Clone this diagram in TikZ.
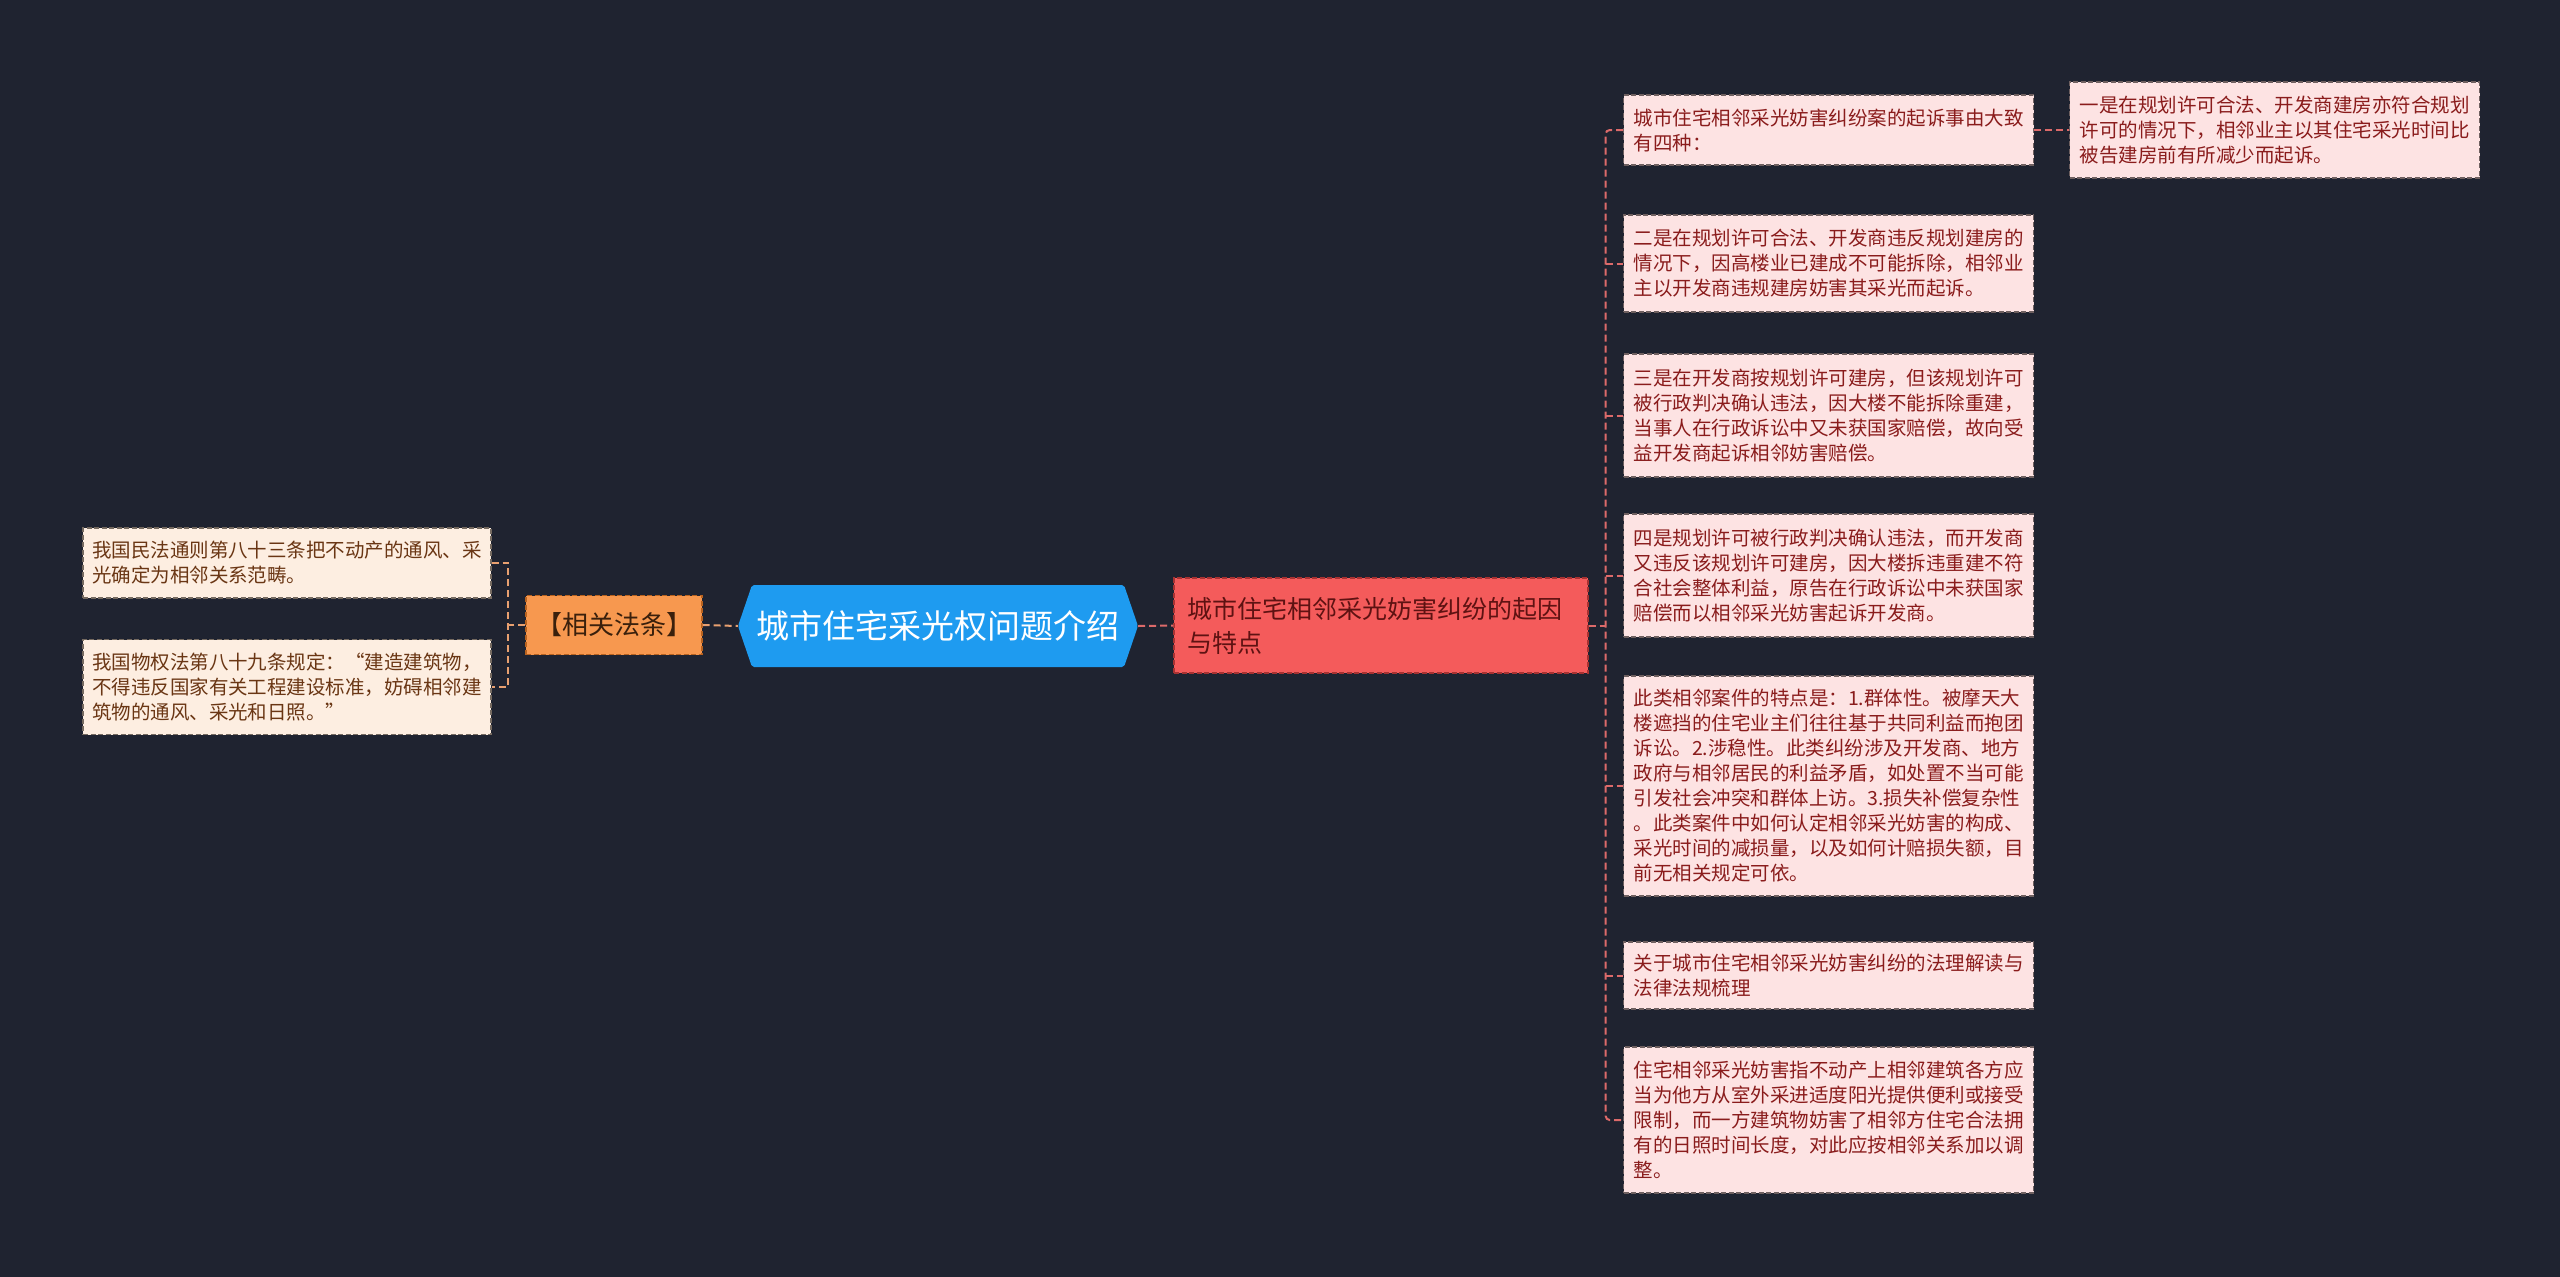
\documentclass[tikz,border=0pt]{standalone}
\usepackage{fontspec}
\setmainfont{Noto Sans CJK SC}
\usetikzlibrary{positioning}
\definecolor{bg}{HTML}{1F2330}
\definecolor{rootblue}{HTML}{1E9BF0}
\definecolor{orangefill}{HTML}{F7984F}
\definecolor{orangeline}{HTML}{B8621F}
\definecolor{orangetext}{HTML}{3A200C}
\definecolor{redfill}{HTML}{F45B5B}
\definecolor{redline}{HTML}{A83232}
\definecolor{redtext}{HTML}{5E1212}
\definecolor{pinkfill}{HTML}{FDE3E3}
\definecolor{pinkline}{HTML}{6F6060}
\definecolor{creamfill}{HTML}{FDEEE1}
\definecolor{creamline}{HTML}{756A60}
\definecolor{darkred}{HTML}{8A1C1C}
\definecolor{browntext}{HTML}{6A3614}
\definecolor{tanlink}{HTML}{E8A070}
\definecolor{redlink}{HTML}{DC6A6A}
\tikzset{
  leafR/.style={draw=pinkline, fill=pinkfill, line width=1.3pt, dash pattern=on 5pt off 2.5pt,
    text=darkred, font=\fontsize{19.5}{25}\selectfont, text width=390pt, inner xsep=10pt,
    inner ysep=0pt, align=left, anchor=west},
  leafL/.style={draw=creamline, fill=creamfill, line width=1.3pt, dash pattern=on 5pt off 2.5pt,
    text=browntext, font=\fontsize{19.5}{25}\selectfont, text width=390pt, inner xsep=9pt,
    inner ysep=0pt, align=left},
  linkR/.style={draw=redlink, line width=2pt, dash pattern=on 7pt off 4pt},
  linkT/.style={draw=tanlink, line width=2pt, dash pattern=on 7pt off 4pt},
}
\begin{document}
\begin{tikzpicture}[x=1pt,y=-1pt]
\fill[bg] (0,0) rectangle (2560,1277);
\useasboundingbox (0,0) rectangle (2560,1277);

% root hexagon
\fill[rootblue, rounded corners=2pt] (738,626) -- (752,585) -- (1124,585) -- (1138,626) -- (1124,667) -- (752,667) -- cycle;
\node[font=\fontsize{33}{40}\selectfont, text=white, minimum width=400pt, minimum height=82pt, inner sep=0pt] (root) at (938,626) {城市住宅采光权问题介绍};

% left branch
\node[draw=orangeline, fill=orangefill, line width=1.3pt, dash pattern=on 5pt off 2.5pt,
  font=\fontsize{26}{30}\selectfont, text=orangetext, minimum width=176pt, minimum height=59pt, inner sep=0pt] (fa) at (614,625) {【相关法条】};
\node[leafL, minimum height=70pt] (l1) at (287,563) {我国民法通则第八十三条把不动产的通风、采\\光确定为相邻关系范畴。};
\node[leafL, minimum height=95pt] (l2) at (287,687) {我国物权法第八十九条规定：“建造建筑物，\\不得违反国家有关工程建设标准，妨碍相邻建\\筑物的通风、采光和日照。”};

% right branch
\node[draw=redline, fill=redfill, line width=1.3pt, dash pattern=on 5pt off 2.5pt,
  font=\fontsize{25}{34}\selectfont, text=redtext, text width=388pt, inner xsep=13pt, inner ysep=0pt,
  minimum height=95pt, align=left] (red) at (1381,625.5) {城市住宅相邻采光妨害纠纷的起因\\与特点};

\node[leafR, minimum height=70pt] (r1) at (1623,130) {城市住宅相邻采光妨害纠纷案的起诉事由大致\\有四种：};
\node[leafR, minimum height=96pt] (yi) at (2069,130) {一是在规划许可合法、开发商建房亦符合规划\\许可的情况下，相邻业主以其住宅采光时间比\\被告建房前有所减少而起诉。};
\node[leafR, minimum height=97pt] (r2) at (1623,263.5) {二是在规划许可合法、开发商违反规划建房的\\情况下，因高楼业已建成不可能拆除，相邻业\\主以开发商违规建房妨害其采光而起诉。};
\node[leafR, minimum height=123pt] (r3) at (1623,415.5) {三是在开发商按规划许可建房，但该规划许可\\被行政判决确认违法，因大楼不能拆除重建，\\当事人在行政诉讼中又未获国家赔偿，故向受\\益开发商起诉相邻妨害赔偿。};
\node[leafR, minimum height=123pt] (r4) at (1623,575.5) {四是规划许可被行政判决确认违法，而开发商\\又违反该规划许可建房，因大楼拆违重建不符\\合社会整体利益，原告在行政诉讼中未获国家\\赔偿而以相邻采光妨害起诉开发商。};
\node[leafR, minimum height=220pt] (r5) at (1623,786) {此类相邻案件的特点是：1.群体性。被摩天大\\楼遮挡的住宅业主们往往基于共同利益而抱团\\诉讼。2.涉稳性。此类纠纷涉及开发商、地方\\政府与相邻居民的利益矛盾，如处置不当可能\\引发社会冲突和群体上访。3.损失补偿复杂性\\。此类案件中如何认定相邻采光妨害的构成、\\采光时间的减损量，以及如何计赔损失额，目\\前无相关规定可依。};
\node[leafR, minimum height=67pt] (r6) at (1623,975.5) {关于城市住宅相邻采光妨害纠纷的法理解读与\\法律法规梳理};
\node[leafR, minimum height=146pt] (r7) at (1623,1120) {住宅相邻采光妨害指不动产上相邻建筑各方应\\当为他方从室外采进适度阳光提供便利或接受\\限制，而一方建筑物妨害了相邻方住宅合法拥\\有的日照时间长度，对此应按相邻关系加以调\\整。};

% connectors
\coordinate (ltrunk) at ([xshift=-17pt]fa.west);
\draw[linkT] (fa.east) -- (root.west);
\draw[linkT] (fa.west) -- (ltrunk);
\draw[linkT] (l1.east) -| (ltrunk) |- (l2.east);

\coordinate (trunk) at ([xshift=17pt]red.east);
\draw[linkR] (root.east) -- (red.west);
\draw[linkR] (red.east) -- (trunk);
\draw[linkR, rounded corners=4pt] (r1.west) -| (trunk) |- (r7.west);
\draw[linkR] (trunk |- r2.west) -- (r2.west);
\draw[linkR] (trunk |- r3.west) -- (r3.west);
\draw[linkR] (trunk |- r4.west) -- (r4.west);
\draw[linkR] (trunk |- r5.west) -- (r5.west);
\draw[linkR] (trunk |- r6.west) -- (r6.west);
\draw[linkR] (r1.east) -- (yi.west);
\end{tikzpicture}
\end{document}
